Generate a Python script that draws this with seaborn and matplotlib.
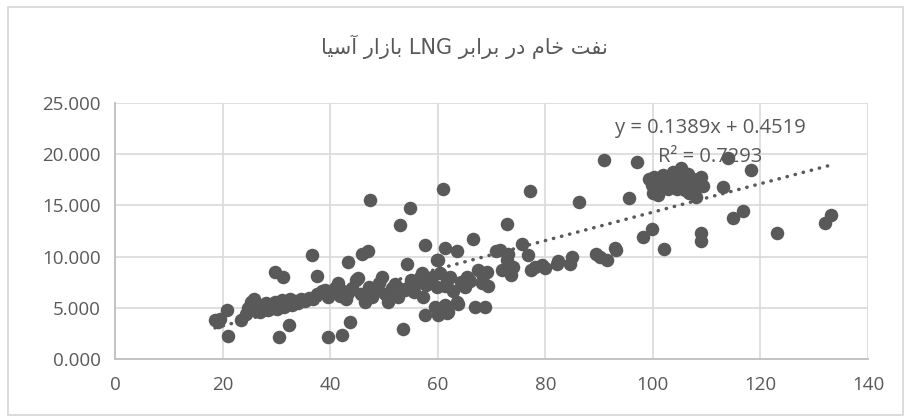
import numpy as np
import pandas as pd
import matplotlib
matplotlib.use("Agg")
import matplotlib.pyplot as plt
import seaborn as sns
from matplotlib.patches import Rectangle

# ---------------- data ----------------
title_text = "نفت خام در برابر LNG بازار آسیا"
eq_text = "y = 0.1389x + 0.4519"
r2_text = "R² = 0.7293"
trend_slope = 0.1389
trend_intercept = 0.4519

x_ticks = [0, 20, 40, 60, 80, 100, 120, 140]
y_ticks = [0, 5, 10, 15, 20, 25]

crude_x = [
    18.6, 19.2, 19.6, 20.8, 21.1,
    23.5, 24.3, 24.8, 25.3, 25.8, 26.2, 26.6, 27.0, 27.5, 28.0, 28.4, 28.9, 29.3, 29.8,
    30.2, 30.6, 31.0, 31.5, 32.0, 32.5, 33.0, 33.5, 34.0, 34.6, 35.3, 36.0, 36.8, 37.6,
    38.5, 39.0, 39.6, 40.3, 40.9, 41.5, 41.8, 42.4, 43.0, 43.4, 44.0, 44.9,
    29.7, 31.2, 30.4, 32.3, 36.6, 37.5, 39.6, 42.2, 43.6, 43.3, 45.9, 47.0, 47.4,
    45.2, 45.8, 46.5, 47.2, 47.8, 48.5, 49.0, 49.6, 50.2, 50.8, 51.5, 52.0, 52.6, 53.2,
    53.9, 54.2, 54.8, 55.1, 55.6, 56.2, 57.0, 57.3, 57.9, 58.9, 59.5, 59.8, 60.1, 60.5,
    61.3, 61.3, 61.3, 61.8, 62.3, 62.8, 63.5, 63.8, 64.3, 65.0, 65.4, 66.0, 66.5, 67.5,
    68.2, 68.5, 69.1, 69.4,
    53.5, 57.6, 60.1, 61.7, 62.0, 63.5, 66.9, 68.8,
    53.0, 54.8, 57.7, 60.9, 59.8,
    70.9, 71.6, 72.8, 72.8, 73.1, 73.7, 71.9, 74.0, 75.6, 76.8, 77.1, 77.4, 78.0, 79.3,
    80.0, 82.1, 82.4, 84.6, 84.9, 86.3, 89.5, 90.2, 91.0, 91.4, 92.9, 93.2,
    95.6, 97.0, 98.2, 99.9, 102.1, 109.0, 109.0, 114.9, 116.7, 123.0, 132.0, 133.2,
    113.1, 114.0, 118.2, 108.1,
    99.2, 99.8, 100.3, 100.8, 101.3, 101.8, 102.3, 102.8, 103.3, 103.8, 104.3, 104.8,
    105.3, 105.6, 106.0, 106.5, 107.0, 107.5, 108.0, 108.5, 109.0, 101.0, 104.5, 106.8,
    109.3, 100.0,
]

lng_price = [
    3.8, 3.6, 3.9, 4.8, 2.2,
    3.8, 4.4, 5.0, 5.6, 5.9, 4.7, 5.3, 4.6, 5.1, 5.5, 4.8, 5.3, 5.0, 5.6,
    4.9, 5.4, 5.8, 5.1, 5.5, 5.9, 5.3, 5.7, 5.5, 5.9, 5.7, 6.0, 5.9, 6.3,
    6.6, 6.7, 6.1, 6.5, 6.9, 7.4, 6.2, 6.6, 5.9, 6.4, 6.9, 7.7,
    8.5, 8.0, 2.1, 3.3, 10.2, 8.1, 2.1, 2.3, 3.6, 9.5, 10.3, 10.5, 15.5,
    7.9, 6.3, 5.6, 7.0, 6.1, 6.6, 7.4, 8.0, 6.3, 5.6, 6.9, 7.3, 6.1, 6.8,
    6.7, 9.3, 7.2, 7.7, 6.5, 7.4, 8.4, 6.1, 7.2, 8.0, 5.1, 7.0, 9.7, 8.4,
    7.1, 5.3, 10.8, 7.6, 8.0, 6.6, 10.5, 5.4, 7.5, 7.0, 8.0, 7.6, 11.7, 8.7,
    7.4, 8.1, 8.5, 7.1,
    2.9, 4.3, 4.3, 4.5, 4.6, 5.6, 5.1, 5.1,
    13.1, 14.7, 11.1, 16.6, 9.7,
    10.5, 10.6, 13.2, 9.7, 10.3, 8.2, 8.7, 9.0, 11.2, 10.2, 16.4, 8.7, 9.0, 9.2,
    8.9, 9.3, 9.6, 9.3, 10.0, 15.3, 10.3, 10.0, 19.4, 9.7, 10.8, 10.6,
    15.7, 19.2, 11.9, 12.7, 10.7, 12.3, 11.5, 13.8, 14.5, 12.3, 13.3, 14.1,
    16.8, 19.6, 18.5, 15.8,
    17.6, 17.0, 17.8, 16.4, 17.4, 18.0, 17.1, 16.6, 17.7, 18.3, 17.2, 17.9,
    18.7, 17.3, 16.5, 18.1, 17.0, 17.6, 16.8, 17.3, 17.8, 16.0, 16.6, 16.2,
    16.9, 16.2,
]

# ---------------- minimal Persian shaping (matplotlib has no complex text layout) --------
FORMS = {  # isolated, final, initial, medial
    "ن": ("\uFEE5", "\uFEE6", "\uFEE7", "\uFEE8"),
    "ف": ("\uFED1", "\uFED2", "\uFED3", "\uFED4"),
    "ت": ("\uFE95", "\uFE96", "\uFE97", "\uFE98"),
    "خ": ("\uFEA5", "\uFEA6", "\uFEA7", "\uFEA8"),
    "م": ("\uFEE1", "\uFEE2", "\uFEE3", "\uFEE4"),
    "ب": ("\uFE8F", "\uFE90", "\uFE91", "\uFE92"),
    "س": ("\uFEB1", "\uFEB2", "\uFEB3", "\uFEB4"),
    "ی": ("\uFBFC", "\uFBFD", "\uFBFE", "\uFBFF"),
    "ي": ("\uFEF1", "\uFEF2", "\uFEF3", "\uFEF4"),
    "ا": ("\uFE8D", "\uFE8E"),
    "آ": ("\uFE81", "\uFE82"),
    "د": ("\uFEA9", "\uFEAA"),
    "ر": ("\uFEAD", "\uFEAE"),
    "ز": ("\uFEAF", "\uFEB0"),
}


def shape_word(word):
    out = []
    for i, ch in enumerate(word):
        f = FORMS.get(ch)
        if f is None:
            out.append(ch)
            continue
        prev = word[i - 1] if i > 0 else None
        nxt = word[i + 1] if i + 1 < len(word) else None
        jp = prev is not None and prev in FORMS and len(FORMS[prev]) == 4
        jn = len(f) == 4 and nxt is not None and nxt in FORMS
        if jp and jn:
            out.append(f[3])
        elif jp:
            out.append(f[1])
        elif jn:
            out.append(f[2])
        else:
            out.append(f[0])
    return "".join(reversed(out))


def visual_rtl(text):
    toks = text.split(" ")
    vis = [shape_word(t) if any(c in FORMS for c in t) else t for t in toks]
    return " ".join(reversed(vis))


# ---------------- plot ----------------
W, H = 907, 418
sns.set_theme(style="white")
plt.rcParams["font.family"] = ["Open Sans", "DejaVu Sans"]

fig = plt.figure(figsize=(W / 100, H / 100), dpi=100)
ax = fig.add_axes([115 / W, 1 - 359 / H, (868 - 115) / W, (359 - 103) / H])

df = pd.DataFrame({"crude": crude_x, "lng": lng_price})
sns.scatterplot(data=df, x="crude", y="lng", ax=ax, color="#595959",
                s=95, linewidth=0, zorder=3)

xs = np.array([min(crude_x), max(crude_x)])
ax.plot(xs, trend_slope * xs + trend_intercept, color="#595959",
        linestyle=(0, (0.1, 2.3)), linewidth=2.5, dash_capstyle="round", zorder=4)

ax.set_xlim(x_ticks[0], x_ticks[-1])
ax.set_ylim(y_ticks[0], y_ticks[-1])
ax.set_xticks(x_ticks)
ax.set_yticks(y_ticks)
ax.set_xticklabels([str(v) for v in x_ticks])
ax.set_yticklabels([f"{v:.3f}" for v in y_ticks])
ax.set_xlabel("")
ax.set_ylabel("")
ax.tick_params(axis="both", length=0, labelsize=13.5, labelcolor="#595959")
ax.tick_params(axis="x", pad=12)
ax.tick_params(axis="y", pad=10)
ax.grid(True, color="#d9d9d9", linewidth=1.2, zorder=0)
ax.set_axisbelow(True)
for side in ["top", "right"]:
    ax.spines[side].set_visible(False)
for side in ["left", "bottom"]:
    ax.spines[side].set_color("#bfbfbf")
    ax.spines[side].set_linewidth(1.3)

fig.text(464 / W, 1 - 47 / H, visual_rtl(title_text), ha="center", va="center",
         fontsize=15, color="#595959", family=["DejaVu Sans"])
fig.text(710 / W, 1 - 128 / H, eq_text, ha="center", va="center",
         fontsize=14.5, color="#595959", zorder=5)
fig.text(710 / W, 1 - 157 / H, r2_text, ha="center", va="center",
         fontsize=14.5, color="#595959", zorder=5)

fig.patches.append(Rectangle((8 / W, 3 / H), (W - 12) / W, (H - 10) / H,
                             transform=fig.transFigure, fill=False,
                             edgecolor="#d9d9d9", linewidth=1.3))

fig.savefig("out.png", dpi=100)
